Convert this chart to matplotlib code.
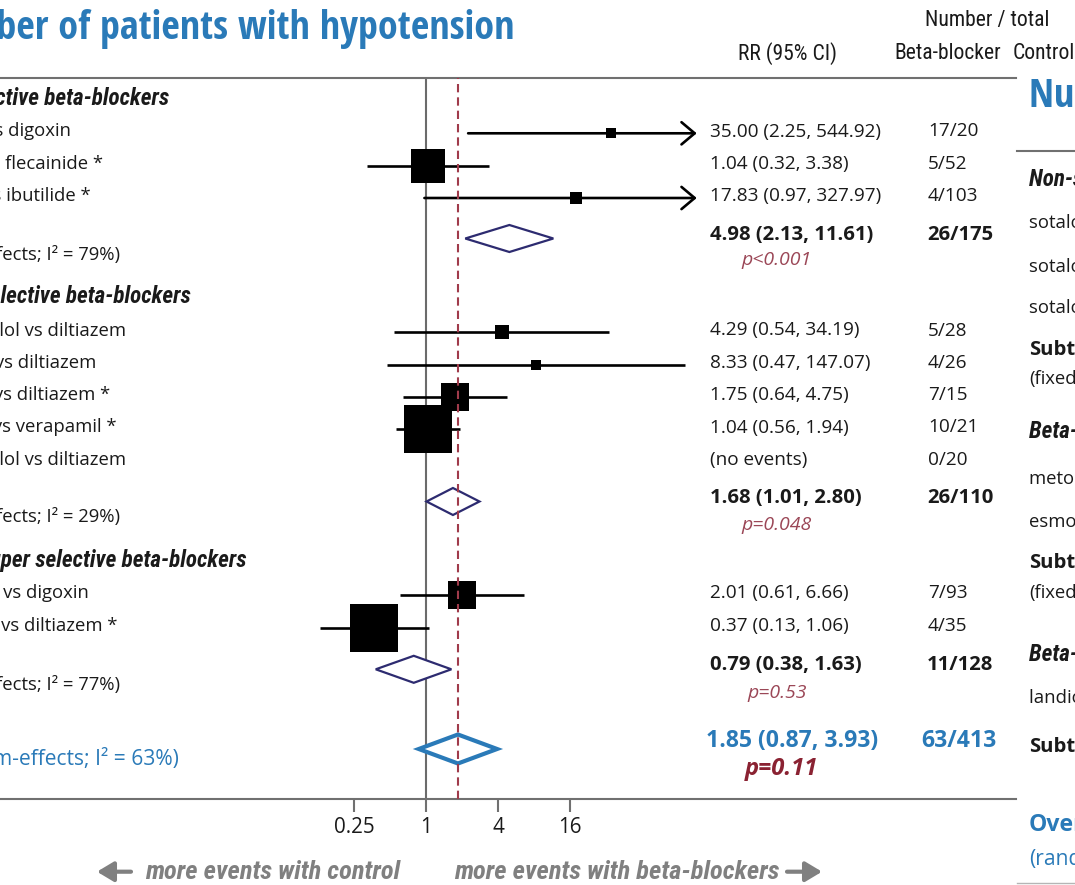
import numpy as np
import matplotlib
matplotlib.use("Agg")
import matplotlib.pyplot as plt
from matplotlib import font_manager as fm
from matplotlib.patches import Polygon
from matplotlib.ticker import NullLocator

# ---------------- data ----------------
group_titles = ["Non-selective beta-blockers",
                "Beta-1 selective beta-blockers",
                "Beta-1 super selective beta-blockers"]

study_labels = ["sotalol vs digoxin", "sotalol vs flecainide *", "sotalol vs ibutilide *",
                "metoprolol vs diltiazem", "esmolol vs diltiazem", "esmolol vs diltiazem *",
                "esmolol vs verapamil *", "metoprolol vs diltiazem",
                "landiolol vs digoxin", "landiolol vs diltiazem *"]
study_rr = [35.00, 1.04, 17.83, 4.29, 8.33, 1.75, 1.04, np.nan, 2.01, 0.37]
study_lo = [2.25, 0.32, 0.97, 0.54, 0.47, 0.64, 0.56, np.nan, 0.61, 0.13]
study_hi = [544.92, 3.38, 327.97, 34.19, 147.07, 4.75, 1.94, np.nan, 6.66, 1.06]
study_events = ["17/20", "5/52", "4/103", "5/28", "4/26", "7/15", "10/21", "0/20", "7/93", "4/35"]
study_weight = [1.3, 13.8, 2.1, 2.8, 1.3, 9.9, 27.9, 0.0, 10.6, 30.3]   # % weight

subtotal_rr = [4.98, 1.68, 0.79]
subtotal_lo = [2.13, 1.01, 0.38]
subtotal_hi = [11.61, 2.80, 1.63]
subtotal_events = ["26/175", "26/110", "11/128"]
subtotal_p = ["p<0.001", "p=0.048", "p=0.53"]
subtotal_i2 = [79, 29, 77]

overall_rr, overall_lo, overall_hi = 1.85, 0.87, 3.93
overall_events = "63/413"
overall_p = "p=0.11"
overall_i2 = 63

x_ticks = [0.25, 1, 4, 16]
x_tick_labels = ["0.25", "1", "4", "16"]
ci_clip = 2 ** 7.52          # CIs beyond this end in an arrow

# neighbouring panel (bradycardia)
side_title = "Number of patients with bradycardia"
side_studies = ["sotalol vs digoxin", "sotalol vs flecainide", "sotalol vs ibutilide",
                "metoprolol vs diltiazem", "esmolol vs diltiazem", "landiolol vs diltiazem"]

# ---------------- layout (pixels) ----------------
W, H, DPI = 1075, 885, 100
AX_RIGHT, AX_TOP, AX_BOTTOM = 1016, 77.5, 799
X1_PX, PX_PER_DOUBLING = 426.0, 36.0

header_y = [98.3, 296.7, 560.0]
study_y = [133.3, 165.7, 198.0, 332.3, 364.7, 397.0, 429.3, 461.7, 595.0, 627.7]
label_right = [70.6, 103.3, 90.6, 126.4, 96.4, 110.2, 116.4, 126.4, 88.8, 117.0]
header_right = [169.4, 191.0, 246.2]
sub_diamond_y = [238.5, 501.5, 669.3]
sub_text_y = [235.0, 497.7, 665.0]
sub_p_y = [260.0, 525.0, 693.3]
sub_label_y = [255.0, 517.3, 685.0]
ov_diamond_y, ov_text_y, ov_p_y, ov_label_y = 749.0, 741.0, 769.3, 760.0
VAL_X, N_X, P_X = 710.0, 928.0, 777.0

# ---------------- colours ----------------
INK = "#1a1a1a"
BLUE = "#2a7ab8"
NAVY = "#2d2b70"
RED = "#a03b4b"
PRED = "#9b4757"
PRED_DARK = "#8a2232"
GRID = "#707070"
ARROW_GRAY = "#808080"

# ---------------- fonts ----------------
_WMAP = {"ultralight": 200, "light": 300, "normal": 400, "regular": 400, "book": 400,
         "roman": 400, "medium": 500, "semibold": 600, "demibold": 600, "demi": 600,
         "bold": 700, "heavy": 800, "extra bold": 800, "black": 900}
_PREF = ["Open Sans Condensed", "Noto Sans Condensed", "Roboto Condensed",
         "Liberation Sans Narrow", "DejaVu Sans Condensed",
         "Open Sans", "Noto Sans", "Roboto", "DejaVu Sans", "Liberation Sans"]


def _wnum(w):
    try:
        return int(w)
    except (TypeError, ValueError):
        return _WMAP.get(str(w).lower(), 400)


def _is_condensed(e):
    n = e.name.lower()
    return ("condensed" in n or "narrow" in n or
            str(e.stretch) in ("condensed", "semi-condensed", "extra-condensed", "ultra-condensed"))


def condensed_font(bold, italic, fallback):
    found = []
    for e in fm.fontManager.ttflist:
        if not _is_condensed(e):
            continue
        w = _wnum(e.weight)
        eb = w >= 600
        ei = str(e.style) in ("italic", "oblique")
        if eb != bold or ei != italic or (not bold and w < 350):
            continue
        rank = _PREF.index(e.name) if e.name in _PREF else 50
        found.append((rank, e.name))
    font = {"weight": "bold" if bold else "normal", "style": "italic" if italic else "normal"}
    if found:
        found.sort()
        name = found[0][1]
        font["family"] = name
        low = name.lower()
        if "condensed" not in low and "narrow" not in low:
            font["stretch"] = "condensed"
    else:
        font["family"] = fallback
    return font


names_all = {e.name for e in fm.fontManager.ttflist}
BODY_FAM = "Open Sans" if "Open Sans" in names_all else "Lato"

title_font = condensed_font(True, False, "Roboto")
hdr_font = condensed_font(True, True, "Lato")
col_font = condensed_font(False, False, "Roboto")
body_font = {"family": BODY_FAM}
bold_font = {"family": BODY_FAM, "weight": "bold"}
ital_font = {"family": BODY_FAM, "style": "italic"}
bital_font = {"family": BODY_FAM, "weight": "bold", "style": "italic"}

plt.rcParams["lines.scale_dashes"] = False

fig = plt.figure(figsize=(W / DPI, H / DPI), dpi=DPI)
renderer = fig.canvas.get_renderer()


def text_width(s, size, font):
    t = fig.text(0, 0, s, fontsize=size, **font)
    w = t.get_window_extent(renderer).width
    t.remove()
    return w


def fit(s, target, font):
    return 20.0 * target / text_width(s, 20.0, font)


title_fs = fit("ber of patients with hypotension", 517, title_font)
hdr_fs = fit("lective beta-blockers", 190, hdr_font)
col_fs = fit("Beta-blocker", 107, col_font)
body_fs = fit("35.00 (2.25, 544.92)", 171, body_font)
label_fs = fit("ects; I\u00b2 = 79%)", 118, body_font)
ovlabel_fs = fit("n-effects; I\u00b2 = 63%)", 180, body_font)
bold_fs = fit("4.98 (2.13, 11.61)", 163, bold_font)
ovr_fs = fit("1.85 (0.87, 3.93)", 172, bold_font)
p_fs = fit("p<0.001", 70, ital_font)
pov_fs = fit("p=0.11", 73, bital_font)
tick_fs = fit("0.25", 40.7, body_font)
arrow_fs = fit("more events with control", 255, hdr_font)

# ---------------- forest axes ----------------
ax = fig.add_axes([0, 1 - AX_BOTTOM / H, AX_RIGHT / W, (AX_BOTTOM - AX_TOP) / H])
ax.set_xscale("log", base=2)
ax.set_xlim(2 ** ((0 - X1_PX) / PX_PER_DOUBLING), 2 ** ((AX_RIGHT - X1_PX) / PX_PER_DOUBLING))
ax.set_ylim(AX_BOTTOM, AX_TOP)
ax.patch.set_alpha(0)
for side in ("left", "right"):
    ax.spines[side].set_visible(False)
for side in ("top", "bottom"):
    ax.spines[side].set_color(GRID)
    ax.spines[side].set_linewidth(1.5)
ax.set_xticks(x_ticks)
ax.set_xticklabels(x_tick_labels)
ax.xaxis.set_minor_locator(NullLocator())
ax.set_yticks([])
ax.tick_params(axis="x", direction="out", length=9.5, width=1.5, color=GRID,
               pad=3.5, labelsize=tick_fs, labelcolor=INK, top=False)
for lab in ax.get_xticklabels():
    lab.set_family(BODY_FAM)

ax.axvline(1, color="#6b6b6b", lw=1.5, zorder=1)
ax.axvline(overall_rr, color=RED, lw=1.5, ls=(0, (6, 3.6)), zorder=6)

# study rows
for i in range(len(study_rr)):
    if np.isnan(study_rr[i]):
        continue
    y = study_y[i]
    lo, hi = study_lo[i], study_hi[i]
    if hi > ci_clip:
        ax.annotate("", xy=(ci_clip, y), xytext=(lo, y),
                    arrowprops=dict(arrowstyle="->,head_length=0.95,head_width=0.8",
                                    lw=1.9, color="black", shrinkA=0, shrinkB=0,
                                    mutation_scale=10), zorder=2)
    else:
        ax.plot([lo, hi], [y, y], color="black", lw=1.9, solid_capstyle="butt", zorder=2)
    side_pt = 8.9 * np.sqrt(study_weight[i]) * 72 / DPI
    ax.plot([study_rr[i]], [y], marker="s", ms=side_pt, mew=0, color="black",
            ls="none", zorder=4)


def diamond(est, lo, hi, y, half, ec, lw):
    ax.add_patch(Polygon([[lo, y], [est, y - half], [hi, y], [est, y + half]],
                         closed=True, fc="white", ec=ec, lw=lw, joinstyle="miter", zorder=3))


for g in range(3):
    diamond(subtotal_rr[g], subtotal_lo[g], subtotal_hi[g], sub_diamond_y[g], 13.5, NAVY, 1.6)
diamond(overall_rr, overall_lo, overall_hi, ov_diamond_y, 14.5, BLUE, 3.0)

# ---------------- text overlay ----------------
ov = fig.add_axes([0, 0, 1, 1], zorder=10)
ov.set_xlim(0, W)
ov.set_ylim(H, 0)
ov.axis("off")


def put(x, y, s, fs, font, color=INK, ha="left", va="center"):
    ov.text(x, y, s, fontsize=fs, color=color, ha=ha, va=va, **font)


put(515, 39.3, "Number of patients with hypotension", title_fs, title_font, BLUE,
    ha="right", va="baseline")
put(987, 20.7, "Number / total", col_fs, col_font, ha="center")
put(787, 53.3, "RR (95% CI)", col_fs, col_font, ha="center")
put(947.7, 53.3, "Beta-blocker", col_fs, col_font, ha="center")
put(1043.4, 53.3, "Control", col_fs, col_font, ha="center")

for g in range(3):
    put(header_right[g], header_y[g], group_titles[g], hdr_fs, hdr_font, ha="right")

for i in range(len(study_labels)):
    ty = study_y[i] - 1.8
    put(label_right[i], ty, study_labels[i], label_fs, body_font, ha="right")
    if np.isnan(study_rr[i]):
        val = "(no events)"
    else:
        val = f"{study_rr[i]:.2f} ({study_lo[i]:.2f}, {study_hi[i]:.2f})"
    put(VAL_X, ty, val, body_fs, body_font)
    put(N_X, ty, study_events[i], body_fs, body_font)

for g in range(3):
    put(119.5, sub_label_y[g], f"(fixed-effects; I\u00b2 = {subtotal_i2[g]}%)", label_fs, body_font,
        ha="right")
    put(VAL_X, sub_text_y[g],
        f"{subtotal_rr[g]:.2f} ({subtotal_lo[g]:.2f}, {subtotal_hi[g]:.2f})", bold_fs, bold_font)
    put(N_X - 1, sub_text_y[g], subtotal_events[g], bold_fs, bold_font)
    put(P_X, sub_p_y[g], subtotal_p[g], p_fs, ital_font, PRED, ha="center")

put(179.0, ov_label_y, f"(random-effects; I\u00b2 = {overall_i2}%)", ovlabel_fs, body_font, BLUE,
    ha="right")
put(VAL_X - 4, ov_text_y, f"{overall_rr:.2f} ({overall_lo:.2f}, {overall_hi:.2f})",
    ovr_fs, bold_font, BLUE)
put(921, ov_text_y, overall_events, ovr_fs, bold_font, BLUE)
put(P_X + 4, ov_p_y, overall_p, pov_fs, bital_font, PRED_DARK, ha="center")

# direction captions
put(144.6, 871.7, "more events with control", arrow_fs, hdr_font, ARROW_GRAY)
put(454.0, 871.7, "more events with beta-blockers", arrow_fs, hdr_font, ARROW_GRAY)
ov.annotate("", xy=(97, 871.7), xytext=(131, 871.7),
            arrowprops=dict(arrowstyle="-|>,head_length=0.5,head_width=0.3", color=ARROW_GRAY,
                            lw=3.0, mutation_scale=20, shrinkA=0, shrinkB=0))
ov.annotate("", xy=(822, 871.7), xytext=(787, 871.7),
            arrowprops=dict(arrowstyle="-|>,head_length=0.5,head_width=0.3", color=ARROW_GRAY,
                            lw=3.0, mutation_scale=20, shrinkA=0, shrinkB=0))

# ---------------- neighbouring panel ----------------
SX = 1029
put(SX, 106.7, side_title, title_fs, title_font, BLUE, va="baseline")
ov.plot([1016.7, W], [150.5, 150.5], color=GRID, lw=1.5)
ov.plot([1016.7, W], [883.0, 883.0], color="#b5b5b5", lw=1.0)
put(SX, 180.0, group_titles[0], hdr_fs, hdr_font)
for s, y in zip(side_studies[:3], [223.3, 266.7, 308.0]):
    put(SX, y, s, label_fs, body_font)
put(SX, 350.0, "Subtotal", bold_fs, bold_font)
put(SX, 379.0, "(fixed-effects)", label_fs, body_font)
put(SX, 431.7, group_titles[1], hdr_fs, hdr_font)
for s, y in zip(side_studies[3:5], [479.0, 521.7]):
    put(SX, y, s, label_fs, body_font)
put(SX, 563.0, "Subtotal", bold_fs, bold_font)
put(SX, 593.3, "(fixed-effects)", label_fs, body_font)
put(SX, 654.0, group_titles[2], hdr_fs, hdr_font)
put(SX, 697.7, side_studies[5], label_fs, body_font)
put(SX, 746.7, "Subtotal", bold_fs, bold_font)
put(SX, 825.0, "Overall", ovr_fs, bold_font, BLUE)
put(SX, 860.0, "(random-effects)", ovlabel_fs, body_font, BLUE)

fig.savefig("out.png", dpi=DPI)
